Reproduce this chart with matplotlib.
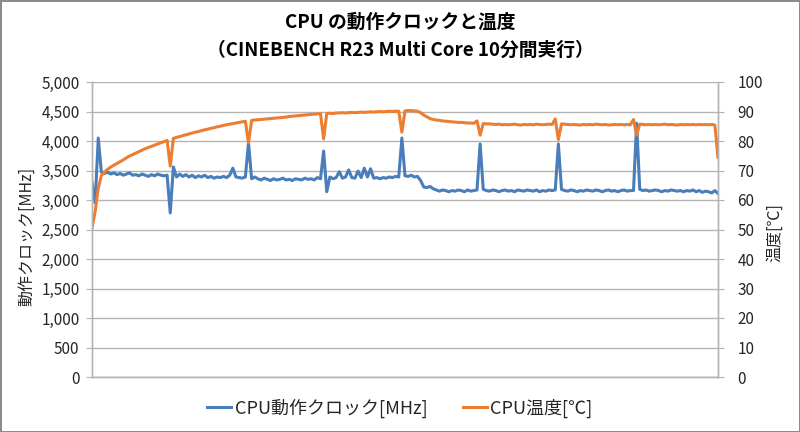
import numpy as np
import matplotlib
matplotlib.use("Agg")
import matplotlib.pyplot as plt
from matplotlib.ticker import FuncFormatter, MultipleLocator

plt.rcParams['font.family'] = ['Noto Sans CJK JP', 'DejaVu Sans']

# data: one sample every 3 seconds over the 10 minute run
seconds = np.arange(0, 601, 3)

clock_mhz = [
    3300, 2950, 4050, 3470, 3450, 3470, 3440, 3460, 3430, 3450,
    3420, 3440, 3460, 3420, 3430, 3410, 3440, 3420, 3400, 3430,
    3410, 3440, 3420, 3410, 3420, 2780, 3560, 3390, 3440, 3400,
    3430, 3390, 3420, 3380, 3410, 3390, 3420, 3380, 3400, 3370,
    3390, 3380, 3400, 3380, 3420, 3540, 3390, 3380, 3370, 3390,
    3970, 3360, 3390, 3360, 3340, 3370, 3350, 3330, 3360, 3340,
    3350, 3370, 3340, 3350, 3330, 3360, 3350, 3340, 3370, 3350,
    3360, 3340, 3380, 3360, 3830, 3140, 3390, 3360, 3380, 3480,
    3370, 3390, 3510, 3380, 3370, 3490, 3380, 3540, 3390, 3530,
    3370, 3380, 3360, 3380, 3370, 3390, 3380, 3400, 3390, 4050,
    3410, 3400, 3420, 3390, 3400, 3330, 3220, 3210, 3230, 3190,
    3170, 3150, 3170, 3160, 3140, 3160, 3150, 3170, 3160, 3140,
    3170, 3150, 3160, 3170, 3950, 3180, 3160, 3150, 3170, 3160,
    3140, 3160, 3170, 3150, 3160, 3140, 3170, 3160, 3150, 3170,
    3160, 3150, 3170, 3140, 3160, 3150, 3170, 3160, 3170, 3950,
    3180, 3160, 3150, 3170, 3160, 3140, 3160, 3150, 3170, 3160,
    3150, 3170, 3160, 3140, 3160, 3170, 3150, 3160, 3140, 3160,
    3170, 3150, 3160, 3160, 4300, 3180, 3160, 3170, 3150, 3160,
    3170, 3160, 3140, 3160, 3150, 3170, 3160, 3150, 3160, 3140,
    3160, 3150, 3170, 3140, 3160, 3130, 3150, 3140, 3120, 3160,
    3110,
]

temp_c = [
    50.5, 56.0, 64.0, 68.3, 69.5, 70.4, 71.2, 71.8, 72.4, 73.0,
    73.6, 74.3, 74.9, 75.4, 75.9, 76.4, 76.9, 77.4, 77.8, 78.2,
    78.6, 79.0, 79.4, 79.8, 80.2, 71.5, 80.9, 81.2, 81.5, 81.8,
    82.1, 82.4, 82.7, 83.0, 83.2, 83.5, 83.8, 84.0, 84.3, 84.5,
    84.8, 85.0, 85.3, 85.5, 85.7, 85.9, 86.1, 86.3, 86.5, 86.7,
    79.3, 87.0, 87.1, 87.2, 87.3, 87.4, 87.5, 87.6, 87.7, 87.8,
    87.9, 88.0, 88.1, 88.3, 88.4, 88.5, 88.6, 88.7, 88.8, 88.9,
    89.0, 89.1, 89.2, 89.3, 80.7, 89.3, 89.4, 89.3, 89.5, 89.5,
    89.6, 89.5, 89.6, 89.7, 89.6, 89.7, 89.8, 89.7, 89.8, 89.9,
    89.8, 89.9, 90.0, 89.9, 90.0, 90.1, 90.0, 90.1, 90.1, 83.0,
    90.2, 90.3, 90.3, 90.2, 90.1, 89.6, 88.8, 88.2, 87.6, 87.3,
    87.1, 87.0, 86.8, 86.7, 86.6, 86.5, 86.4, 86.3, 86.3, 86.2,
    86.1, 86.1, 86.0, 86.8, 82.0, 85.9, 85.8, 85.8, 85.7, 85.6,
    85.7, 85.5, 85.6, 85.5, 85.6, 85.7, 85.5, 85.4, 85.6, 85.5,
    85.6, 85.5, 85.7, 85.6, 85.5, 85.6, 85.7, 85.6, 87.5, 80.5,
    85.8, 85.7, 85.6, 85.5, 85.6, 85.5, 85.4, 85.6, 85.5, 85.6,
    85.5, 85.7, 85.6, 85.5, 85.6, 85.4, 85.5, 85.6, 85.5, 85.6,
    85.5, 85.6, 85.5, 87.3, 82.0, 85.7, 85.6, 85.5, 85.6, 85.5,
    85.6, 85.5, 85.6, 85.7, 85.5, 85.6, 85.5, 85.4, 85.6, 85.5,
    85.6, 85.5, 85.6, 85.5, 85.6, 85.5, 85.6, 85.5, 85.6, 85.4,
    74.5,
]

BLUE = "#4a7ebb"
ORANGE = "#ed7d31"
GRID = "#b4b4b4"
TEXT = "#262626"

fig = plt.figure(figsize=(8, 4.32), dpi=100, edgecolor="#8c8c8c", linewidth=2)
ax = fig.add_axes([92 / 800, 55 / 432, 626 / 800, 295 / 432])
ax2 = ax.twinx()

ax.plot(seconds, clock_mhz, color=BLUE, lw=2.2, label="CPU動作クロック[MHz]")
ax2.plot(seconds, temp_c, color=ORANGE, lw=2.2, label="CPU温度[℃]")

ax.set_xlim(0, 600)
ax.set_ylim(0, 5000)
ax2.set_ylim(0, 100)
ax.yaxis.set_major_locator(MultipleLocator(500))
ax2.yaxis.set_major_locator(MultipleLocator(10))
ax.yaxis.set_major_formatter(FuncFormatter(lambda v, p: f"{int(v):,}"))
ax.set_xticks([])

ax.grid(axis="y", color=GRID, lw=1)
ax.set_axisbelow(True)
for a in (ax, ax2):
    a.spines["top"].set_visible(False)
    for s in ("left", "right", "bottom"):
        a.spines[s].set_color(GRID)
        a.spines[s].set_linewidth(1)
ax.tick_params(axis="y", length=4, color=GRID, labelsize=11, labelcolor=TEXT, pad=5)
ax2.tick_params(axis="y", length=4, color=GRID, labelsize=11, labelcolor=TEXT, pad=10)
for lbl in ax2.get_yticklabels():
    lbl.set_ha("left")

fig.text(0.5, 1 - 22 / 432, "CPU の動作クロックと温度", ha="center", va="center",
         fontsize=13.5, fontweight="bold", color="black")
fig.text(0.5, 1 - 50 / 432, "（CINEBENCH R23 Multi Core 10分間実行）", ha="center",
         va="center", fontsize=13.5, fontweight="bold", color="black")

fig.text(27 / 800, 1 - 236 / 432, "動作クロック[MHz]", rotation=90, ha="center",
         va="center", fontsize=11.5, color=TEXT)
fig.text(775 / 800, 1 - 233 / 432, "温度[℃]", rotation=90, ha="center",
         va="center", fontsize=11.5, color=TEXT)

h1, l1 = ax.get_legend_handles_labels()
h2, l2 = ax2.get_legend_handles_labels()
fig.legend(h1 + h2, l1 + l2, loc="center", bbox_to_anchor=(0.5, 24 / 432), ncol=2,
           frameon=False, fontsize=13, handlelength=1.3, handletextpad=0.2,
           columnspacing=2.0, labelcolor=TEXT)

fig.savefig("out.png", dpi=100, edgecolor=fig.get_edgecolor())
